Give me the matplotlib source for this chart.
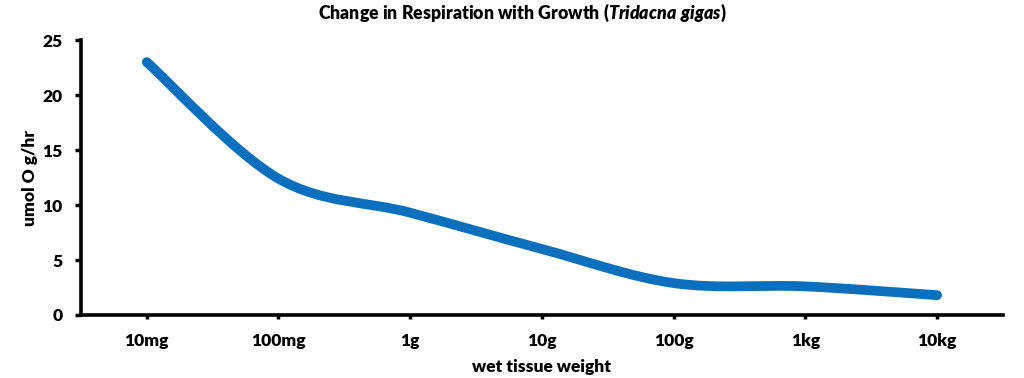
import numpy as np
import matplotlib
matplotlib.use("Agg")
import matplotlib.pyplot as plt
from matplotlib.path import Path
from matplotlib.patches import PathPatch

# data
weights = ["10mg", "100mg", "1g", "10g", "100g", "1kg", "10kg"]
respiration = [23.0, 12.4, 9.3, 6.0, 2.9, 2.6, 1.8]

LINE_COLOR = "#0A70BE"
FONT = "Lato"

plt.rcParams["font.family"] = [FONT, "DejaVu Sans"]
plt.rcParams["font.weight"] = "heavy"
plt.rcParams["mathtext.fontset"] = "custom"
plt.rcParams["mathtext.it"] = f"{FONT}:italic:heavy"
plt.rcParams["mathtext.rm"] = f"{FONT}:heavy"


def smooth_path(xs, ys):
    """Excel-style smoothed line: cubic bezier segments through each point."""
    pts = np.column_stack([xs, ys])
    n = len(pts)
    verts = [pts[0]]
    codes = [Path.MOVETO]
    for i in range(n - 1):
        p0 = pts[max(i - 1, 0)]
        p1 = pts[i]
        p2 = pts[i + 1]
        p3 = pts[min(i + 2, n - 1)]
        c1 = p1 + (p2 - p0) / 6.0
        c2 = p2 - (p3 - p1) / 6.0
        verts += [c1, c2, p2]
        codes += [Path.CURVE4] * 3
    return Path(verts, codes)


fig = plt.figure(figsize=(10.24, 3.78), dpi=100)
ax = fig.add_axes([0.079, 0.1667, 0.9005, 0.7273])

x = np.arange(len(weights))
patch = PathPatch(smooth_path(x, respiration), facecolor="none",
                  edgecolor=LINE_COLOR, linewidth=7, capstyle="round",
                  joinstyle="round")
ax.add_patch(patch)

ax.set_xlim(-0.5, len(weights) - 0.5)
ax.set_ylim(0, 25)
ax.set_yticks(range(0, 26, 5))
ax.set_xticks(x)
ax.set_xticklabels(weights)

for side in ["top", "right"]:
    ax.spines[side].set_visible(False)
for side in ["left", "bottom"]:
    ax.spines[side].set_linewidth(2.6)

ax.tick_params(axis="y", direction="out", length=4, width=2.5, pad=9,
               labelsize=12.5)
ax.tick_params(axis="x", direction="out", length=3, width=2.5, pad=10,
               labelsize=12.5)

ax.set_xlabel("wet tissue weight", fontsize=12.5, fontweight="heavy", labelpad=7)
ax.set_ylabel("umol O g/hr", fontsize=12.5, fontweight="heavy", labelpad=3)
fig.text(0.51, 0.965,
         r"Change in Respiration with Growth ($\mathit{Tridacna\ gigas}$)",
         fontsize=12.8, fontweight="heavy", ha="center", va="center")

fig.savefig("out.png", dpi=100)
